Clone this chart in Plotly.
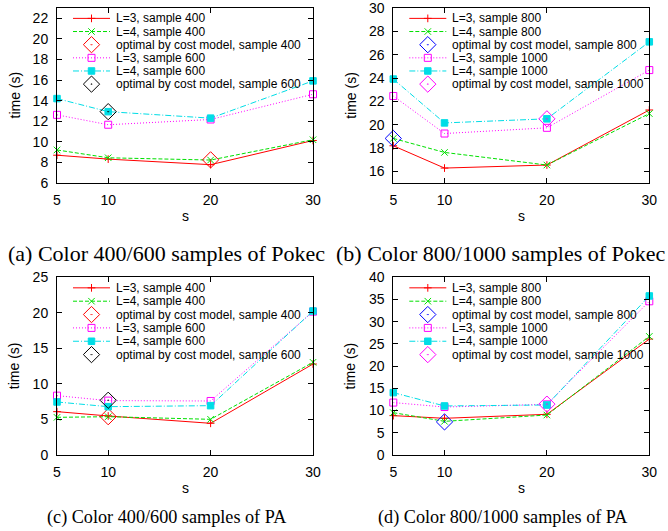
import plotly.graph_objects as go

# ---------------- data ----------------
s_values = [5, 10, 20, 30]

# (a) Pokec, samples 400 / 600
pokec_l3_400 = [8.70, 8.32, 7.78, 10.13]
pokec_l4_400 = [9.21, 8.45, 8.23, 10.20]
pokec_opt_400_s = [20]
pokec_opt_400_t = [8.25]
pokec_l3_600 = [12.62, 11.66, 12.17, 14.62]
pokec_l4_600 = [14.20, 12.93, 12.30, 15.92]
pokec_opt_600_s = [10]
pokec_opt_600_t = [12.93]

# (b) Pokec, samples 800 / 1000
pokec_l3_800 = [18.19, 16.28, 16.54, 21.26]
pokec_l4_800 = [18.82, 17.62, 16.54, 20.95]
pokec_opt_800_s = [5]
pokec_opt_800_t = [18.82]
pokec_l3_1000 = [22.46, 19.24, 19.73, 24.68]
pokec_l4_1000 = [23.91, 20.15, 20.50, 27.10]
pokec_opt_1000_s = [20]
pokec_opt_1000_t = [20.50]

# (c) PA, samples 400 / 600
pa_l3_400 = [6.10, 5.49, 4.46, 12.80]
pa_l4_400 = [5.30, 5.39, 5.02, 13.04]
pa_opt_400_s = [10]
pa_opt_400_t = [5.39]
pa_l3_600 = [8.35, 7.65, 7.60, 20.17]
pa_l4_600 = [7.46, 6.80, 6.94, 20.26]
pa_opt_600_s = [10]
pa_opt_600_t = [7.70]

# (d) PA, samples 800 / 1000
pa_l3_800 = [8.86, 8.26, 9.16, 26.10]
pa_l4_800 = [9.53, 7.58, 9.00, 26.70]
pa_opt_800_s = [10]
pa_opt_800_t = [7.45]
pa_l3_1000 = [11.80, 10.80, 11.40, 34.60]
pa_l4_1000 = [14.04, 11.04, 11.26, 35.80]
pa_opt_1000_s = [20]
pa_opt_1000_t = [11.45]

captions = [
    "(a) Color 400/600 samples of Pokec",
    "(b) Color 800/1000 samples of Pokec",
    "(c) Color 400/600 samples of PA",
    "(d) Color 800/1000 samples of PA",
]
y_ranges = [[6, 23], [15, 30], [0, 25], [0, 40]]
y_ticks = [
    [6, 8, 10, 12, 14, 16, 18, 20, 22],
    [16, 18, 20, 22, 24, 26, 28, 30],
    [0, 5, 10, 15, 20, 25],
    [0, 5, 10, 15, 20, 25, 30, 35, 40],
]

# ---------------- styles ----------------
RED = "#ff0000"
GREEN = "#00e000"
BLUE = "#0000ff"
MAGENTA = "#ff00ff"
CYAN = "#00dde6"
BLACK = "#000000"

STY_L3A = dict(color=RED, dash="solid", symbol="cross-thin-open", size=5.5)
STY_L4A = dict(color=GREEN, dash="4px,2px", symbol="x-thin-open", size=6.5)
STY_L3B = dict(color=MAGENTA, dash="1px,2px", symbol="square-open", size=7)
STY_L4B = dict(color=CYAN, dash="6px,2px,1px,2px", symbol="square", size=6.5)


def opt_style(c):
    return dict(color=c, dash=None, symbol="diamond-open-dot", size=12.5)


panels = [
    [
        ("L=3, sample 400", s_values, pokec_l3_400, STY_L3A),
        ("L=4, sample 400", s_values, pokec_l4_400, STY_L4A),
        ("optimal by cost model, sample 400", pokec_opt_400_s, pokec_opt_400_t, opt_style(RED)),
        ("L=3, sample 600", s_values, pokec_l3_600, STY_L3B),
        ("L=4, sample 600", s_values, pokec_l4_600, STY_L4B),
        ("optimal by cost model, sample 600", pokec_opt_600_s, pokec_opt_600_t, opt_style(BLACK)),
    ],
    [
        ("L=3, sample 800", s_values, pokec_l3_800, STY_L3A),
        ("L=4, sample 800", s_values, pokec_l4_800, STY_L4A),
        ("optimal by cost model, sample 800", pokec_opt_800_s, pokec_opt_800_t, opt_style(BLUE)),
        ("L=3, sample 1000", s_values, pokec_l3_1000, STY_L3B),
        ("L=4, sample 1000", s_values, pokec_l4_1000, STY_L4B),
        ("optimal by cost model, sample 1000", pokec_opt_1000_s, pokec_opt_1000_t, opt_style(MAGENTA)),
    ],
    [
        ("L=3, sample 400", s_values, pa_l3_400, STY_L3A),
        ("L=4, sample 400", s_values, pa_l4_400, STY_L4A),
        ("optimal by cost model, sample 400", pa_opt_400_s, pa_opt_400_t, opt_style(RED)),
        ("L=3, sample 600", s_values, pa_l3_600, STY_L3B),
        ("L=4, sample 600", s_values, pa_l4_600, STY_L4B),
        ("optimal by cost model, sample 600", pa_opt_600_s, pa_opt_600_t, opt_style(BLACK)),
    ],
    [
        ("L=3, sample 800", s_values, pa_l3_800, STY_L3A),
        ("L=4, sample 800", s_values, pa_l4_800, STY_L4A),
        ("optimal by cost model, sample 800", pa_opt_800_s, pa_opt_800_t, opt_style(BLUE)),
        ("L=3, sample 1000", s_values, pa_l3_1000, STY_L3B),
        ("L=4, sample 1000", s_values, pa_l4_1000, STY_L4B),
        ("optimal by cost model, sample 1000", pa_opt_1000_s, pa_opt_1000_t, opt_style(MAGENTA)),
    ],
]

# ---------------- layout geometry ----------------
W, H = 668, 531
X_DOM = [[57 / W, 313 / W], [393.3 / W, 649.3 / W]]
Y_DOM = [[1 - 183 / H, 1 - 8 / H], [1 - 455 / H, 1 - 277.3 / H]]
PANEL_W = 256.0
PANEL_H = 177.0

SANS = "Liberation Sans, Arial, Helvetica, sans-serif"
SERIF = "Liberation Serif, Times New Roman, serif"
TICK_FONT = dict(family=SANS, size=14, color="black")
LEG_FONT = dict(family=SANS, size=12, color="black")

# legend key geometry (fraction of the plot area)
KEY_X0 = 16 / PANEL_W
KEY_X1 = 53 / PANEL_W
KEY_XM = (KEY_X0 + KEY_X1) / 2
TEXT_X = 57 / PANEL_W
ROW0 = 10.5 / PANEL_H
ROW_STEP = 13.3 / PANEL_H

fig = go.Figure()
annotations = []
layout_axes = {}

for i, series in enumerate(panels):
    col = i % 2
    row = i // 2
    n = i + 1
    xa = "x" if n == 1 else f"x{n}"
    ya = "y" if n == 1 else f"y{n}"
    ln = n + 4
    lxa, lya = f"x{ln}", f"y{ln}"

    for name, xs, ys, st in series:
        has_line = st["dash"] is not None
        fig.add_trace(go.Scatter(
            x=xs, y=ys, xaxis=xa, yaxis=ya, name=name, showlegend=False,
            mode="lines+markers" if has_line else "markers",
            line=dict(color=st["color"], width=1, dash=st["dash"] or "solid"),
            marker=dict(symbol=st["symbol"], size=st["size"], color=st["color"],
                        line=dict(width=1, color=st["color"])),
            cliponaxis=False,
        ))

    # legend (gnuplot-style key)
    for k, (name, xs, ys, st) in enumerate(series):
        yk = 1 - (ROW0 + k * ROW_STEP)
        if st["dash"] is not None:
            fig.add_trace(go.Scatter(
                x=[KEY_X0, KEY_X1], y=[yk, yk], xaxis=lxa, yaxis=lya,
                mode="lines", showlegend=False, hoverinfo="skip",
                line=dict(color=st["color"], width=1, dash=st["dash"]),
            ))
        fig.add_trace(go.Scatter(
            x=[KEY_XM], y=[yk], xaxis=lxa, yaxis=lya,
            mode="markers", showlegend=False, hoverinfo="skip",
            marker=dict(symbol=st["symbol"], size=st["size"], color=st["color"],
                        line=dict(width=1, color=st["color"])),
            cliponaxis=False,
        ))
        annotations.append(dict(
            x=TEXT_X, y=yk, xref=lxa, yref=lya, text=name, showarrow=False,
            xanchor="left", yanchor="middle", font=LEG_FONT,
        ))

    xkey = "xaxis" if n == 1 else f"xaxis{n}"
    ykey = "yaxis" if n == 1 else f"yaxis{n}"
    layout_axes[xkey] = dict(
        domain=X_DOM[col], anchor=ya, range=[5, 30], tickvals=s_values,
        ticks="inside", ticklen=5, tickwidth=1, tickcolor="black",
        showline=True, linecolor="black", linewidth=1, mirror="ticks",
        showgrid=False, zeroline=False, tickfont=TICK_FONT,
        ticklabelstandoff=4, automargin=False, ticklabeloverflow="allow",
    )
    layout_axes[ykey] = dict(
        domain=Y_DOM[row], anchor=xa, range=y_ranges[i], tickvals=y_ticks[i],
        ticks="inside", ticklen=5, tickwidth=1, tickcolor="black",
        showline=True, linecolor="black", linewidth=1, mirror="ticks",
        showgrid=False, zeroline=False, tickfont=TICK_FONT,
        ticklabelstandoff=5, automargin=False, ticklabeloverflow="allow",
    )
    layout_axes[f"xaxis{ln}"] = dict(
        overlaying=xa, anchor=lya, range=[0, 1], visible=False,
        fixedrange=True, automargin=False,
    )
    layout_axes[f"yaxis{ln}"] = dict(
        overlaying=ya, anchor=lxa, range=[0, 1], visible=False,
        fixedrange=True, automargin=False,
    )

    # axis titles
    xd = X_DOM[col]
    yd = Y_DOM[row]
    xmid = (xd[0] + xd[1]) / 2
    ymid = (yd[0] + yd[1]) / 2
    annotations.append(dict(
        x=xd[0] - 43 / W, y=ymid, xref="paper", yref="paper", text="time (s)",
        textangle=-90, showarrow=False, xanchor="center", yanchor="middle",
        font=dict(family=SANS, size=14, color="black"),
    ))
    annotations.append(dict(
        x=xmid, y=yd[0] - 33 / H, xref="paper", yref="paper", text="s",
        showarrow=False, xanchor="center", yanchor="middle",
        font=dict(family=SANS, size=14, color="black"),
    ))

# captions
cap_pos = [(166, 253, 22), (501, 253, 22), (166, 517, 18.2), (502, 517, 18.2)]
for cap, (cx, cy, fs) in zip(captions, cap_pos):
    annotations.append(dict(
        x=cx / W, y=1 - cy / H, xref="paper", yref="paper", text=cap,
        showarrow=False, xanchor="center", yanchor="middle",
        font=dict(family=SERIF, size=fs, color="black"),
    ))

fig.update_layout(
    template="none",
    width=W, height=H, margin=dict(l=0, r=0, t=0, b=0, autoexpand=False),
    paper_bgcolor="white", plot_bgcolor="white",
    showlegend=False, hovermode=False,
    annotations=annotations, **layout_axes,
)

fig.write_html(
    "out.html",
    config={"displayModeBar": False, "staticPlot": True},
    post_script="document.body.style.margin='0';document.body.style.overflow='hidden';",
)
